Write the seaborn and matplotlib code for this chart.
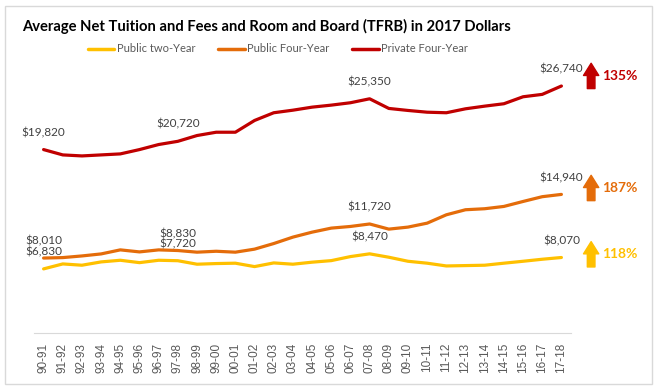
import numpy as np
import pandas as pd
import matplotlib.pyplot as plt
from matplotlib.patches import Rectangle
from matplotlib.lines import Line2D
import seaborn as sns

years = ['90-91', '91-92', '92-93', '93-94', '94-95', '95-96', '96-97', '97-98',
         '98-99', '99-00', '00-01', '01-02', '02-03', '03-04', '04-05', '05-06',
         '06-07', '07-08', '08-09', '09-10', '10-11', '11-12', '12-13', '13-14',
         '14-15', '15-16', '16-17', '17-18']

public_two = [6830, 7370, 7230, 7590, 7770, 7510, 7770, 7720, 7340, 7410,
              7450, 7080, 7480, 7340, 7560, 7730, 8170, 8470, 8100, 7660,
              7450, 7150, 7190, 7230, 7450, 7660, 7880, 8070]
public_four = [8010, 8060, 8240, 8460, 8900, 8680, 8900, 8830, 8650, 8750,
               8650, 8980, 9590, 10290, 10830, 11270, 11450, 11720, 11160, 11380,
               11810, 12720, 13270, 13380, 13630, 14170, 14690, 14940]
private_four = [19820, 19240, 19130, 19240, 19350, 19820, 20370, 20720, 21350, 21710,
                21710, 22990, 23830, 24110, 24440, 24660, 24920, 25350, 24300, 24080,
                23890, 23830, 24260, 24550, 24810, 25570, 25830, 26740]

series_names = ['Public two-Year', 'Public Four-Year', 'Private Four-Year']
colors = ['#FFC000', '#E46C0A', '#C00000']
growth = ['118%', '187%', '135%']
label_idx = [0, 7, 17, 27]

df = pd.DataFrame({
    'year': years * 3,
    'value': public_two + public_four + private_four,
    'series': np.repeat(series_names, len(years)),
})

sns.set_style('white')
plt.rcParams['font.family'] = ['Lato', 'DejaVu Sans']

fig = plt.figure(figsize=(6.6, 3.9), dpi=100)
ax = fig.add_axes([34 / 660, 57 / 390, 537 / 660, 276 / 390])

sns.lineplot(data=df, x='year', y='value', hue='series', palette=colors,
             linewidth=2.3, ax=ax, legend=False, sort=False)

ax.set_xlim(-0.5, len(years) - 0.5)
ax.set_ylim(-150, 29900)
ax.set_xlabel('')
ax.set_ylabel('')
ax.set_yticks([])
ax.set_xticks(range(len(years)))
ax.set_xticklabels(years, rotation=90, fontsize=8.5, color='#595959',
                   family='Liberation Sans')
ax.tick_params(axis='x', length=0, pad=7)
for s in ['left', 'right', 'top']:
    ax.spines[s].set_visible(False)
ax.spines['bottom'].set_color('#D9D9D9')

# value labels
all_vals = [public_two, public_four, private_four]
for vals in all_vals:
    for i in label_idx:
        ax.annotate(f'${vals[i]:,}', (i, vals[i]), xytext=(0, 17),
                    textcoords='offset pixels', ha='center', va='center',
                    fontsize=8.5, color='#404040', annotation_clip=False)

# growth arrows
arrow_offsets = [350, 700, 1100]
for vals, c, g, off in zip(all_vals, colors, growth, arrow_offsets):
    yc = vals[-1] + off
    ax.annotate('', xy=(28.55, yc + 1380), xytext=(28.55, yc - 1380),
                arrowprops=dict(arrowstyle='simple,head_length=0.8,head_width=1.0,tail_width=0.5',
                                color=c, mutation_scale=11, shrinkA=0, shrinkB=0),
                annotation_clip=False)
    ax.text(29.1, yc, g, color=c, fontsize=10, fontweight='bold',
            ha='left', va='center', clip_on=False)

fig.text(22 / 660, 1 - 26 / 390, 'Average Net Tuition and Fees and Room and Board (TFRB) in 2017 Dollars',
         fontsize=10.6, fontweight='bold', color='black', ha='left', va='center')

handles = [Line2D([], [], color=c, lw=2.5) for c in colors]
leg = fig.legend(handles, series_names, loc='center', bbox_to_anchor=(278 / 660, 1 - 49 / 390),
                 ncol=3, frameon=False, fontsize=8, handlelength=2.4, handletextpad=0.25,
                 columnspacing=2.0)
for t in leg.get_texts():
    t.set_color('#595959')

fig.patches.append(Rectangle((5 / 660, 6 / 390), 647 / 660, 378 / 390, transform=fig.transFigure,
                             fill=False, edgecolor='#D9D9D9', linewidth=1))

fig.savefig('out.png', dpi=100)
